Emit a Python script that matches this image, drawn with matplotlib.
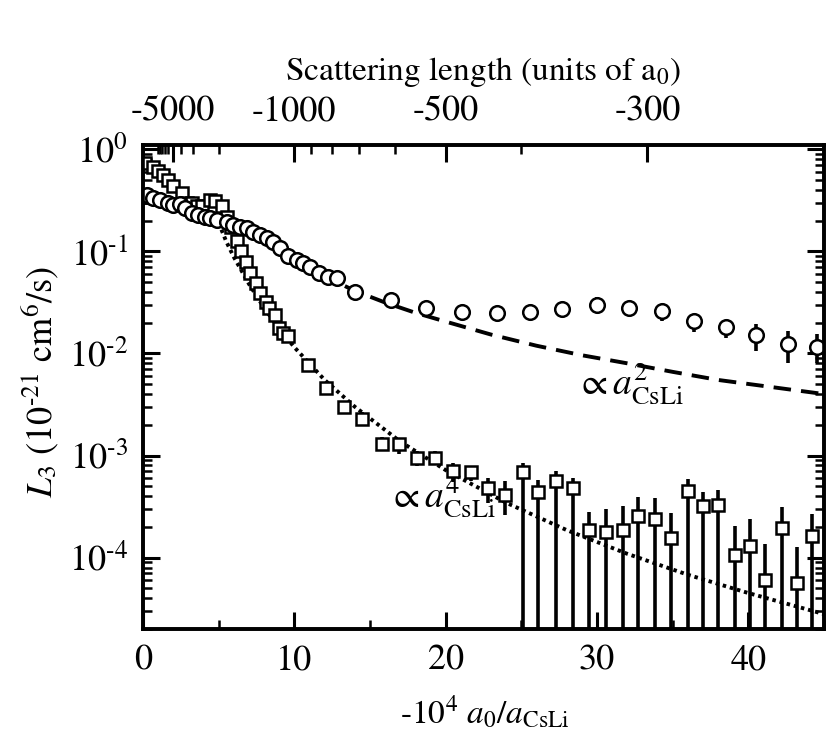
import numpy as np
import matplotlib
matplotlib.use('Agg')
import matplotlib.pyplot as plt
from matplotlib.ticker import FixedLocator, MultipleLocator, LogLocator, NullFormatter, FuncFormatter

plt.rcParams['font.family'] = ['STIXGeneral', 'DejaVu Sans']
plt.rcParams['mathtext.fontset'] = 'stix'

# ---- squares (Cs-Cs-Li) ----
sq_x = [0.13, 0.66, 0.99, 1.32, 1.65, 1.98, 2.57, 2.9, 3.23, 3.56, 3.9, 4.42, 4.75, 5.2,
        5.54, 5.81, 6.2, 6.47, 6.8, 7.06, 7.46, 7.72, 8.12, 8.32, 8.71, 8.98, 9.24, 9.57,
        10.9, 12.1, 13.3, 14.5, 15.8, 16.9, 18.1, 19.3, 20.5, 21.7, 22.8, 23.9,
        25.1, 26.1, 27.3, 28.4, 29.5, 30.6, 31.7, 32.7, 33.8, 34.9, 36.0, 37.0, 38.0,
        39.1, 40.1, 41.1, 42.2, 43.2, 44.2]
sq_y = [0.73, 0.67, 0.61, 0.556, 0.50, 0.44, 0.37, 0.295, 0.295, 0.28, 0.28, 0.316, 0.31, 0.28,
        0.215, 0.172, 0.125, 0.10, 0.078, 0.061, 0.0485, 0.0389, 0.0316, 0.0276, 0.0236, 0.0176,
        0.0157, 0.0147,
        0.0077, 0.0046, 0.0030, 0.0023, 0.0013, 0.0013, 0.00095, 0.00095, 0.00071, 0.00069,
        0.00048, 0.00041,
        0.00069, 0.00044, 0.00056, 0.00048, 0.000188, 0.000177, 0.000188, 0.000258, 0.00024,
        0.000154, 0.00045, 0.00032, 0.00033, 0.000107, 0.000129, 6.0e-5, 0.000196, 5.6e-5,
        0.000162]
# error half-widths in decades (upper / lower)
sq_up = [0.03] * 28 + [0.06, 0.06, 0.06, 0.065, 0.065, 0.06, 0.065, 0.065, 0.08, 0.06, 0.10, 0.14,
                       0.09, 0.12, 0.10, 0.10, 0.17, 0.23, 0.23, 0.18, 0.20, 0.25, 0.12, 0.14, 0.14,
                       0.28, 0.27, 0.36, 0.20, 0.36, 0.22]
sq_dn = [0.03] * 28 + [0.06, 0.06, 0.06, 0.065, 0.065, 0.10, 0.08, 0.07, 0.11, 0.09, 0.15, 0.20,
                       5, 5, 5, 5, 5, 5, 5, 5, 5, 5, 5, 5, 5,
                       5, 5, 5, 5, 5, 5]

# ---- circles (Li-Cs-Cs) ----
ci_x = [0.26, 0.66, 1.12, 1.65, 1.98, 2.44, 2.77, 3.23, 3.63, 4.09, 4.42, 4.88, 5.54, 5.94,
        6.4, 6.86, 7.26, 7.72, 8.18, 8.58, 9.04, 9.57, 10.17, 10.56, 11.02, 11.6, 12.2, 12.8,
        14.0, 16.4, 18.7, 21.1, 23.4, 25.6, 27.7, 30.0, 32.1, 34.3, 36.4, 38.5, 40.5, 42.6, 44.55]
ci_y = [0.354, 0.331, 0.316, 0.296, 0.282, 0.289, 0.264, 0.236, 0.225, 0.215, 0.211, 0.201,
        0.192, 0.18, 0.172, 0.168, 0.153, 0.143, 0.134, 0.123, 0.109, 0.089, 0.082, 0.076,
        0.070, 0.061, 0.0556, 0.0543, 0.0396, 0.033, 0.0276, 0.0252, 0.0247, 0.0252, 0.027,
        0.0296, 0.0276, 0.0258, 0.0206, 0.018, 0.015, 0.0125, 0.0115]
ci_up = [0.02] * 29 + [0.06, 0.06, 0.06, 0.06, 0.06, 0.06, 0.08, 0.06, 0.06, 0.075, 0.065, 0.115, 0.125, 0.13]
ci_dn = [0.02] * 29 + [0.06, 0.06, 0.06, 0.06, 0.06, 0.06, 0.08, 0.06, 0.09, 0.105, 0.105, 0.15, 0.19, 0.15]

# ---- guide curves ----
dash_x = [0, 2, 4, 6, 8, 10, 12, 14, 16, 18, 20, 23, 26, 29, 32, 35, 38, 41, 45]
dash_y = [0.30, 0.28, 0.235, 0.18, 0.125, 0.083, 0.057, 0.041, 0.0315, 0.025, 0.0205, 0.0153,
          0.0119, 0.0096, 0.0080, 0.0066, 0.0055, 0.0048, 0.0040]
dot_x = [5.0, 5.5, 6, 7, 8, 9, 10, 12, 14, 17, 20, 24, 28, 32, 36, 40, 45]
dot_y = [0.19, 0.125, 0.088, 0.048, 0.028, 0.0175, 0.0115, 0.0055, 0.0030, 0.00137, 0.00072,
         0.000345, 0.000186, 0.000109, 6.8e-5, 4.5e-5, 2.8e-5]

x_ticks = [0, 10, 20, 30, 40]
top_major_a = [-5000, -1000, -500, -300]
top_minor_a = [-10000, -9000, -8000, -7000, -6000, -4000, -3000, -2000,
               -900, -800, -700, -600, -400]

HY = '\u2010'  # hyphen, as in the original labels


def yerr(y, up, dn):
    y = np.asarray(y, float)
    up = np.asarray(up, float)
    dn = np.asarray(dn, float)
    return [y - y * 10 ** (-dn), y * 10 ** up - y]


def logfmt(v, pos):
    e = int(round(np.log10(v)))
    s = str(e).replace('-', HY)
    return r'$10^{%s}$' % s


fig = plt.figure(figsize=(8.3, 7.36), dpi=100)
ax = fig.add_axes([143 / 830, 1 - 629 / 736, 681 / 830, 484 / 736])
ax.set_yscale('log')
ax.set_xlim(0, 45)
ax.set_ylim(2e-5, 1.1)

ax.plot(dash_x, dash_y, color='k', lw=2.8, dashes=(4.5, 2.6), zorder=2)
ax.plot(dot_x, dot_y, color='k', lw=2.8, dashes=(0.9, 1.0), zorder=2)

ax.errorbar(sq_x, sq_y, yerr=yerr(sq_y, sq_up, sq_dn), fmt='s', ms=9, mfc='white', mec='k',
            mew=1.8, ecolor='k', elinewidth=2.6, capsize=0, zorder=3)
ax.errorbar(ci_x, ci_y, yerr=yerr(ci_y, ci_up, ci_dn), fmt='o', ms=10.5, mfc='white', mec='k',
            mew=1.8, ecolor='k', elinewidth=2.6, capsize=0, zorder=4)

for s in ax.spines.values():
    s.set_linewidth(2.6)

ax.xaxis.set_major_locator(FixedLocator(x_ticks))
ax.xaxis.set_minor_locator(MultipleLocator(5))
ax.yaxis.set_major_locator(LogLocator(base=10, numticks=20))
ax.yaxis.set_major_formatter(FuncFormatter(logfmt))
ax.yaxis.set_minor_locator(LogLocator(base=10, subs=np.arange(2, 10), numticks=20))
ax.yaxis.set_minor_formatter(NullFormatter())
ax.tick_params(which='both', direction='in', top=False, right=True, labelsize=26)
ax.tick_params(which='major', length=12, width=2.2, pad=11)
ax.tick_params(which='minor', length=6.5, width=1.8)

ax2 = ax.twiny()
ax2.set_xlim(ax.get_xlim())
ax2.set_xticks([-1e4 / a for a in top_major_a])
ax2.set_xticklabels([str(a) for a in top_major_a])
ax2.set_xticks([-1e4 / a for a in top_minor_a], minor=True)
ax2.tick_params(which='both', direction='in', labelsize=26)
ax2.tick_params(which='major', length=12, width=2.2, pad=12)
ax2.tick_params(which='minor', length=6.5, width=1.8)
for s in ax2.spines.values():
    s.set_linewidth(2.6)

ax.text(28.6, 0.0039, r'$\propto a^{2}_{\mathrm{CsLi}}$', fontsize=27)
ax.text(16.2, 3.1e-4, r'$\propto a^{4}_{\mathrm{CsLi}}$', fontsize=27)

fig.text(483 / 830, 1 - 72 / 736, r'Scattering length (units of a$_0$)', fontsize=24,
         ha='center', va='center')
fig.text(485 / 830, 1 - 712 / 736, r'-10$^4$ $a_0/a_{\mathrm{CsLi}}$', fontsize=24,
         ha='center', va='center')
fig.text(40 / 830, 1 - 382 / 736, r'$L_3$ (10$^{%s21}$ cm$^6$/s)' % HY, fontsize=26,
         ha='center', va='center', rotation=90)

fig.savefig('out.png', dpi=100)
